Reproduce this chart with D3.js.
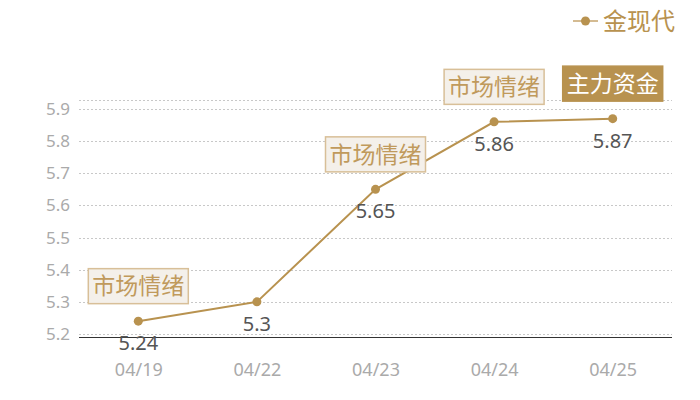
<!DOCTYPE html>
<html lang="zh">
<head>
<meta charset="UTF-8">
<script src="https://cdn.jsdelivr.net/npm/d3@7"></script>
<style>
  body { margin: 0; background: #fff; }
  text { font-family: "Noto Sans", "Noto Sans CJK SC", sans-serif; }
  .cjk { font-family: "Noto Sans CJK SC", sans-serif; }
</style>
</head>
<body>
<script>
  var dates = ["04/19", "04/22", "04/23", "04/24", "04/25"];
  var values = [5.24, 5.3, 5.65, 5.86, 5.87];
  var yTicks = [5.2, 5.3, 5.4, 5.5, 5.6, 5.7, 5.8, 5.9];
  // which point carries which tag
  var tagIndex = [0, 2, 3, 4];
  var tagText = ["市场情绪", "市场情绪", "市场情绪", "主力资金"];
  var seriesName = "金现代";

  var width = 700, height = 400;
  var margin = {top: 100, right: 28, bottom: 63, left: 79};
  var gold = "#b8924f";

  var svg = d3.select("body").append("svg")
    .attr("width", width)
    .attr("height", height);

  var x = d3.scalePoint()
    .domain(dates)
    .range([margin.left, width - margin.right])
    .padding(0.5);

  var y = d3.scaleLinear()
    .domain([5.1907, 5.928])
    .range([height - margin.bottom, margin.top]);

  // grid
  svg.append("g")
    .selectAll("line")
    .data(yTicks.concat([y.domain()[1]]))
    .enter().append("line")
    .attr("x1", margin.left)
    .attr("x2", width - margin.right)
    .attr("y1", function(d) { return Math.round(y(d)) + 0.5; })
    .attr("y2", function(d) { return Math.round(y(d)) + 0.5; })
    .attr("stroke", "#c8c8c8")
    .attr("stroke-dasharray", "2,2");

  // y labels
  svg.append("g")
    .selectAll("text")
    .data(yTicks)
    .enter().append("text")
    .attr("x", 70)
    .attr("y", function(d) { return y(d); })
    .attr("dy", "0.35em")
    .attr("text-anchor", "end")
    .attr("fill", "#aaa")
    .style("font-size", "17px")
    .text(function(d) { return d3.format(".1f")(d); });

  // x axis
  var xAxis = svg.append("g")
    .attr("transform", "translate(0," + (height - margin.bottom) + ")")
    .call(d3.axisBottom(x).tickSize(0).tickPadding(26));
  xAxis.select(".domain").attr("stroke", "#333")
    .attr("d", "M" + margin.left + ",0.5H" + (width - margin.right));
  xAxis.selectAll("text")
    .attr("fill", "#aaa")
    .style("font-size", "18px")
    .style("font-family", "'Noto Sans', sans-serif");

  // line
  var line = d3.line()
    .x(function(d, i) { return x(dates[i]); })
    .y(function(d) { return y(d); });

  svg.append("path")
    .datum(values)
    .attr("d", line)
    .attr("fill", "none")
    .attr("stroke", gold)
    .attr("stroke-width", 2);

  svg.append("g")
    .selectAll("circle")
    .data(values)
    .enter().append("circle")
    .attr("cx", function(d, i) { return x(dates[i]); })
    .attr("cy", function(d) { return y(d); })
    .attr("r", 4.5)
    .attr("fill", gold);

  // value labels
  svg.append("g")
    .selectAll("text")
    .data(values)
    .enter().append("text")
    .attr("x", function(d, i) { return x(dates[i]); })
    .attr("y", function(d) { return y(d) + 22; })
    .attr("dy", "0.35em")
    .attr("text-anchor", "middle")
    .attr("fill", "#555")
    .style("font-size", "20px")
    .text(function(d) { return d; });

  // tags above points
  var tags = svg.append("g")
    .selectAll("g")
    .data(tagIndex)
    .enter().append("g")
    .attr("transform", function(d) {
      return "translate(" + x(dates[d]) + "," + (y(values[d]) - 35) + ")";
    });

  tags.append("rect")
    .attr("x", -50)
    .attr("y", -17.5)
    .attr("width", 100)
    .attr("height", 35)
    .attr("fill", function(d, i) { return tagText[i] === "主力资金" ? gold : "#f4f0ea"; })
    .attr("stroke", function(d, i) { return tagText[i] === "主力资金" ? gold : "#d8bf98"; })
    .attr("stroke-width", 1.5);

  tags.append("text")
    .attr("class", "cjk")
    .attr("y", 0)
    .attr("dy", "0.36em")
    .attr("text-anchor", "middle")
    .attr("fill", function(d, i) { return tagText[i] === "主力资金" ? "#fff" : "#c09a5c"; })
    .style("font-size", "23px")
    .text(function(d, i) { return tagText[i]; });

  // legend
  var legend = svg.append("g").attr("transform", "translate(573,21)");
  legend.append("line")
    .attr("x1", 0).attr("x2", 25)
    .attr("stroke", "#d4bb92").attr("stroke-width", 2);
  legend.append("circle")
    .attr("cx", 12.5).attr("r", 4.5).attr("fill", gold);
  legend.append("text")
    .attr("class", "cjk")
    .attr("x", 30)
    .attr("dy", "0.36em")
    .attr("fill", gold)
    .style("font-size", "24px")
    .text(seriesName);
</script>
</body>
</html>
